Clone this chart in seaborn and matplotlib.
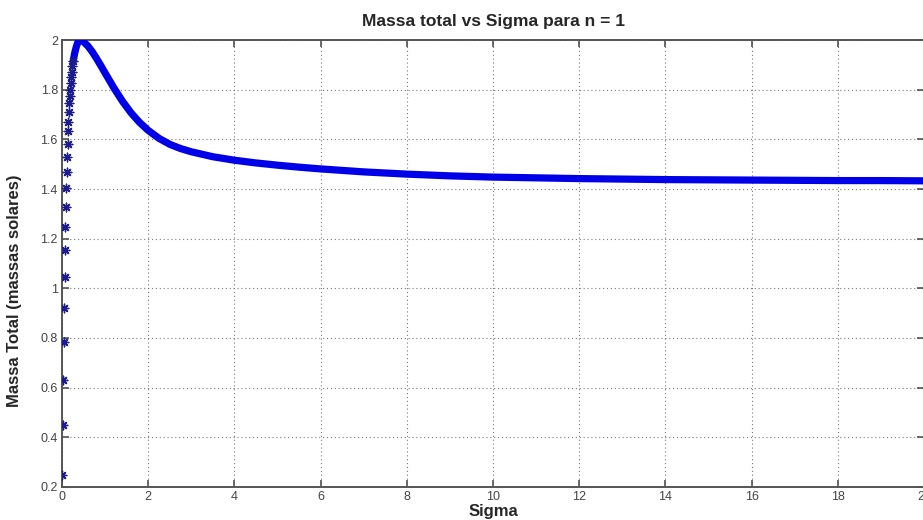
import numpy as np
import pandas as pd
import matplotlib
matplotlib.use("Agg")
import matplotlib.pyplot as plt
import seaborn as sns

# Valores: ramo inicial (pontos isolados)
sigma_sub = [0.01, 0.02, 0.03, 0.04, 0.05, 0.06, 0.07, 0.08, 0.09, 0.10,
             0.11, 0.12, 0.13, 0.14, 0.15, 0.16, 0.17, 0.18, 0.19, 0.20,
             0.21, 0.22, 0.24, 0.26]
massa_sub = [0.25, 0.45, 0.63, 0.785, 0.92, 1.045, 1.155, 1.247, 1.328, 1.404,
             1.47, 1.53, 1.58, 1.634, 1.671, 1.711, 1.745, 1.775, 1.80, 1.828,
             1.85, 1.872, 1.895, 1.915]

# ramo denso (aparece como faixa grossa)
sigma_dens = [0.26, 0.28, 0.30, 0.33, 0.36, 0.39, 0.42, 0.5, 0.6,
              0.7, 0.8, 0.9, 1.0, 1.2, 1.4, 1.6, 1.8, 2.0, 2.25,
              2.5, 2.75, 3.0, 3.5, 4.0, 4.5, 5.0, 5.5, 6.0, 7.0,
              8.0, 9.0, 10.0, 11.0, 12.0, 13.0, 14.0, 15.0, 16.0, 17.0,
              18.0, 19.0, 20.0]
massa_dens = [1.915, 1.935, 1.952, 1.972, 1.988, 1.997, 2.0, 1.993, 1.976,
              1.953, 1.926, 1.897, 1.867, 1.808, 1.754, 1.707, 1.668, 1.636, 1.604,
              1.580, 1.563, 1.550, 1.530, 1.516, 1.505, 1.496, 1.488, 1.481, 1.469,
              1.460, 1.453, 1.448, 1.445, 1.442, 1.440, 1.438, 1.437, 1.436, 1.435,
              1.434, 1.434, 1.433]

x_ticks = [0, 2, 4, 6, 8, 10, 12, 14, 16, 18, 20]
y_ticks = [0.2, 0.4, 0.6, 0.8, 1.0, 1.2, 1.4, 1.6, 1.8, 2.0]
y_labels = ["0.2", "0.4", "0.6", "0.8", "1", "1.2", "1.4", "1.6", "1.8", "2"]

df_sub = pd.DataFrame({"Sigma": sigma_sub, "Massa": massa_sub})
df_dens = pd.DataFrame({"Sigma": sigma_dens, "Massa": massa_dens})

sns.set_style("white")
plt.rcParams["font.family"] = ["Liberation Sans", "DejaVu Sans"]

fig = plt.figure(figsize=(9.23, 5.20), dpi=100)
ax = fig.add_axes([0.0672, 0.0635, 0.9339, 0.8595])

asterisco = (8, 2, 0)

# faixa densa
sns.lineplot(data=df_dens, x="Sigma", y="Massa", ax=ax, color="#0000e8",
             linewidth=5.2, sort=False, zorder=3)
# pontos isolados
sns.scatterplot(data=df_sub, x="Sigma", y="Massa", ax=ax, marker=asterisco,
                s=38, color="#1c1c8c", linewidth=1.0, zorder=4)

ax.set_xlim(0, 20)
ax.set_ylim(0.2, 2)
ax.set_xticks(x_ticks)
ax.set_xticklabels([str(t) for t in x_ticks])
ax.set_yticks(y_ticks)
ax.set_yticklabels(y_labels)

ax.grid(True, linestyle=(0, (1, 2.5)), color="#777777", linewidth=0.8)
for s in ax.spines.values():
    s.set_visible(True)
    s.set_color("#555555")
    s.set_linewidth(1.4)

ax.tick_params(direction="in", length=5, width=1.1, color="#444444",
               labelsize=9, labelcolor="#444444", top=True, right=True,
               bottom=True, left=True, pad=3)

ax.set_title("Massa total vs Sigma para n = 1", fontsize=12.5,
             fontweight="bold", pad=10)
ax.set_xlabel("Sigma", fontsize=12, fontweight="bold")
ax.set_ylabel("Massa Total (massas solares)", fontsize=12, fontweight="bold")
ax.xaxis.set_label_coords(0.5, -0.038)
ax.yaxis.set_label_coords(-0.047, 0.44)

fig.savefig("out.png", dpi=100)
